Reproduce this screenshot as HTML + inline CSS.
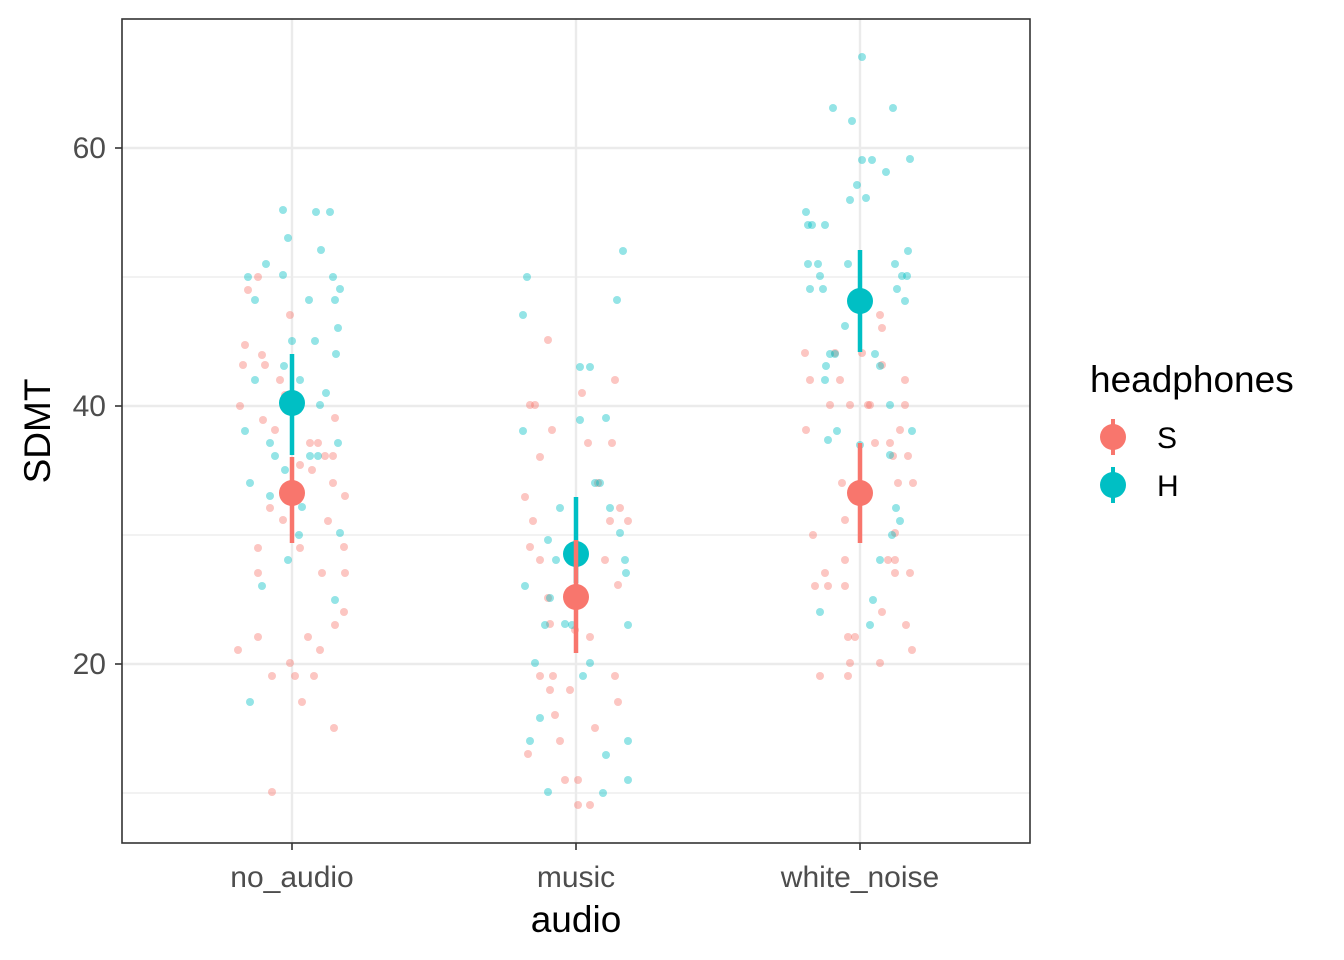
<!DOCTYPE html>
<html><head><meta charset="utf-8"><style>
html,body{margin:0;padding:0;background:#fff;}
svg{display:block;font-family:"Liberation Sans",Arial,sans-serif;}
</style></head><body>
<svg id="s" width="1344" height="960" viewBox="0 0 1344 960" xmlns="http://www.w3.org/2000/svg">
<rect x="0" y="0" width="1344" height="960" fill="#fff"/>
<g stroke="#ebebeb" stroke-width="1.2">
<line x1="122" x2="1030" y1="277" y2="277"/><line x1="122" x2="1030" y1="535" y2="535"/><line x1="122" x2="1030" y1="793" y2="793"/>
</g>
<g stroke="#ebebeb" stroke-width="2.4">
<line x1="122" x2="1030" y1="148" y2="148"/><line x1="122" x2="1030" y1="406" y2="406"/><line x1="122" x2="1030" y1="664" y2="664"/>
<line x1="292" x2="292" y1="19" y2="843"/><line x1="576" x2="576" y1="19" y2="843"/><line x1="860" x2="860" y1="19" y2="843"/>
</g>
<g id="pts"></g>
<g id="means"></g>
<rect x="122" y="19" width="908" height="824" fill="none" stroke="#333" stroke-width="1.6"/>
<g stroke="#333" stroke-width="1.6">
<line x1="115" x2="122" y1="148" y2="148"/><line x1="115" x2="122" y1="406" y2="406"/><line x1="115" x2="122" y1="664" y2="664"/>
<line x1="292" x2="292" y1="843" y2="850"/><line x1="576" x2="576" y1="843" y2="850"/><line x1="860" x2="860" y1="843" y2="850"/>
</g>
<g font-size="30" fill="#4d4d4d">
<text x="106" y="158" text-anchor="end">60</text>
<text x="106" y="416" text-anchor="end">40</text>
<text x="106" y="674" text-anchor="end">20</text>
<text x="292" y="887" text-anchor="middle">no_audio</text>
<text x="576" y="887" text-anchor="middle">music</text>
<text x="860" y="887" text-anchor="middle">white_noise</text>
</g>
<text x="576" y="932" text-anchor="middle" font-size="37" fill="#000">audio</text>
<text transform="translate(50,431) rotate(-90)" text-anchor="middle" font-size="37" fill="#000">SDMT</text>
<text x="1090" y="392" font-size="37" fill="#000">headphones</text>
<g stroke-width="4">
<line x1="1113" x2="1113" y1="419" y2="455" stroke="#F8766D"/><circle cx="1113" cy="437" r="13" fill="#F8766D"/>
<line x1="1113" x2="1113" y1="467" y2="503" stroke="#00BFC4"/><circle cx="1113" cy="485" r="13" fill="#00BFC4"/>
</g>
<text x="1157" y="448" font-size="30" fill="#000">S</text>
<text x="1157" y="496" font-size="30" fill="#000">H</text>
</svg>
<script>
var R=[[240,406],[245,345],[243,365],[248,290],[258,277],[262,355],[265,365],[263,420],[275,430],[280,380],[285,395],[290,315],[270,508],[283,520],[258,548],[258,573],[258,637],[238,650],[272,676],[290,663],[295,676],[302,702],[272,792],[300,548],[308,637],[314,676],[320,650],[322,573],[328,521],[333,483],[335,418],[345,496],[344,547],[345,573],[344,612],[335,625],[334,728],[310,443],[318,443],[325,456],[333,456],[300,465],[312,470],
[530,405],[535,405],[548,340],[552,430],[540,457],[525,497],[530,547],[533,521],[540,560],[548,598],[550,624],[553,676],[550,690],[555,715],[528,754],[560,741],[565,780],[578,780],[578,805],[590,805],[570,690],[590,637],[595,728],[605,560],[610,521],[612,443],[615,380],[620,508],[618,585],[615,676],[618,702],[628,521],[598,483],[588,443],[582,393],[540,676],[575,630],
[805,353],[810,380],[806,430],[813,535],[815,586],[825,573],[828,586],[830,405],[835,353],[840,380],[842,483],[845,520],[845,560],[845,586],[848,637],[850,663],[855,637],[820,676],[848,676],[850,405],[862,353],[870,405],[875,443],[880,315],[882,328],[882,365],[882,612],[880,663],[890,443],[893,456],[895,533],[895,560],[895,573],[898,483],[905,380],[905,405],[906,625],[910,573],[912,650],[913,483],[908,456],[900,430],[888,560],[868,405]];
var H=[[250,702],[262,586],[250,483],[245,431],[248,277],[255,300],[266,264],[255,380],[270,443],[275,456],[283,275],[288,238],[283,210],[284,366],[292,341],[300,380],[309,300],[316,212],[321,250],[330,212],[333,277],[335,300],[336,354],[338,328],[340,289],[315,341],[320,405],[326,393],[310,456],[318,456],[338,443],[335,600],[340,533],[288,560],[299,535],[302,507],[285,470],[270,496],
[527,277],[523,315],[523,431],[525,586],[535,663],[530,741],[548,792],[540,718],[545,625],[550,598],[556,560],[572,625],[580,420],[580,367],[590,367],[606,418],[617,300],[623,251],[595,483],[600,483],[610,508],[620,533],[625,560],[626,573],[628,625],[628,741],[628,780],[606,755],[590,663],[583,676],[603,793],[565,624],[560,508],[548,540],
[806,212],[808,225],[812,225],[808,264],[810,289],[818,264],[820,276],[823,289],[825,225],[826,366],[825,380],[820,612],[830,354],[833,108],[835,354],[837,431],[828,440],[845,326],[848,264],[850,200],[852,121],[857,185],[862,160],[862,57],[866,198],[872,160],[875,354],[880,366],[886,172],[890,405],[892,535],[893,108],[895,264],[897,289],[902,276],[905,301],[907,276],[908,251],[910,159],[912,431],[870,625],[873,600],[860,445],[880,560],[890,455],[896,508],[900,521]];
var ns="http://www.w3.org/2000/svg",g=document.getElementById("pts"),m=document.getElementById("means");
function c(p,x,y,r,f,o){var e=document.createElementNS(ns,"circle");e.setAttribute("cx",x);e.setAttribute("cy",y);e.setAttribute("r",r);e.setAttribute("fill",f);if(o)e.setAttribute("fill-opacity",o);p.appendChild(e);}
R.forEach(function(a){c(g,a[0],a[1],4,"#F8766D",0.42)});
H.forEach(function(a){c(g,a[0],a[1],4,"#00BFC4",0.42)});
function mean(x,y,y1,y2,f){var l=document.createElementNS(ns,"line");l.setAttribute("x1",x);l.setAttribute("x2",x);l.setAttribute("y1",y1);l.setAttribute("y2",y2);l.setAttribute("stroke",f);l.setAttribute("stroke-width",4.5);m.appendChild(l);c(m,x,y,13,f);}
mean(292,403,354,455,"#00BFC4");mean(292,493,457,543,"#F8766D");
mean(576,554,497,583,"#00BFC4");mean(576,597,540,653,"#F8766D");
mean(860,301,250,352,"#00BFC4");mean(860,493,443,543,"#F8766D");
</script>
</body></html>
